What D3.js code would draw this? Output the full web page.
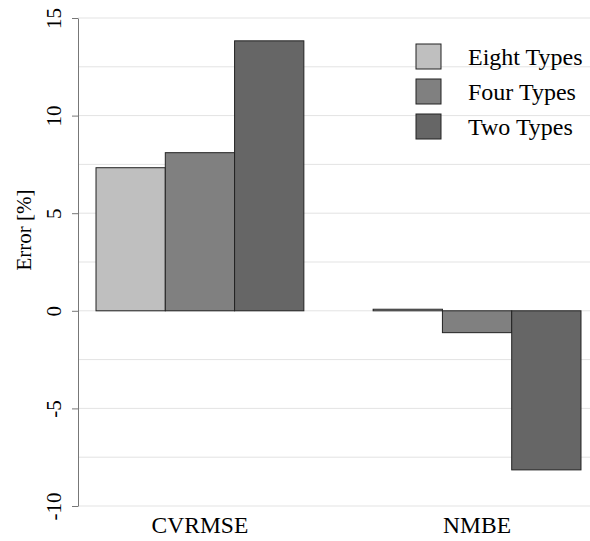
<!DOCTYPE html>
<html>
<head>
<meta charset="utf-8">
<script src="https://cdn.jsdelivr.net/npm/d3@7"></script>
<style>
  body { margin: 0; background: #fff; }
  text { font-family: "Liberation Serif", "Times New Roman", serif; fill: #000; }
</style>
</head>
<body>
<div id="chart"></div>
<script>
const categories = ['CVRMSE', 'NMBE']
const seriesNames = ['Eight Types', 'Four Types', 'Two Types']
const eightTypes = [7.33, 0.08]
const fourTypes = [8.1, -1.12]
const twoTypes = [13.83, -8.15]
const yTicks = [-10, -5, 0, 5, 10, 15]
const gridValues = [-10, -7.5, -5, -2.5, 0, 2.5, 5, 7.5, 10, 12.5, 15]
const colors = ['#bfbfbf', '#808080', '#666666']

const width = 590
const height = 541
const axisX = 78

const seriesValues = [eightTypes, fourTypes, twoTypes]
const data = categories.map((c, i) => ({
  cat: c,
  vals: seriesNames.map((s, j) => ({ name: s, value: seriesValues[j][i], idx: j }))
}))

const svg = d3.select('#chart').append('svg')
  .attr('width', width)
  .attr('height', height)

// scales
const y = d3.scaleLinear().domain([-10, 15]).range([506, 18])
const x0 = d3.scaleBand()
  .domain(categories)
  .range([axisX, 599])
  .paddingInner(0.25)
  .paddingOuter(0.065)
const x1 = d3.scaleBand()
  .domain(seriesNames)
  .range([0, x0.bandwidth()])

// grid
svg.append('g')
  .selectAll('line')
  .data(gridValues)
  .join('line')
  .attr('x1', axisX)
  .attr('x2', width)
  .attr('y1', d => y(d))
  .attr('y2', d => y(d))
  .attr('stroke', '#e3e3e3')
  .attr('stroke-width', 1)

// bars
svg.append('g')
  .selectAll('g')
  .data(data)
  .join('g')
  .attr('transform', d => `translate(${x0(d.cat)},0)`)
  .selectAll('rect')
  .data(d => d.vals)
  .join('rect')
  .attr('x', d => x1(d.name))
  .attr('y', d => y(Math.max(0, d.value)))
  .attr('width', x1.bandwidth())
  .attr('height', d => Math.abs(y(d.value) - y(0)))
  .attr('fill', d => colors[d.idx])
  .attr('stroke', '#222')
  .attr('stroke-width', 1)

// y axis (hyphen for minus, like the original)
const yAxis = svg.append('g')
  .attr('transform', `translate(${axisX},0)`)
  .call(d3.axisLeft(y).tickValues(yTicks).tickSize(6).tickSizeOuter(0)
    .tickFormat(d => String(d)))
yAxis.select('.domain').attr('stroke', '#777')
yAxis.selectAll('.tick line').attr('stroke', '#777')
yAxis.selectAll('.tick text')
  .attr('font-size', 21)
  .attr('x', 0)
  .attr('dy', 0)
  .attr('text-anchor', 'middle')
  .attr('transform', 'translate(-17,0) rotate(-90)')
  .style('font-family', '"Liberation Serif", serif')
  .attr('fill', '#000')

svg.append('text')
  .attr('transform', 'translate(31,230) rotate(-90)')
  .attr('text-anchor', 'middle')
  .attr('font-size', 21)
  .text('Error [%]')

// x labels
svg.append('g')
  .selectAll('text')
  .data(categories)
  .join('text')
  .attr('x', d => x0(d) + x0.bandwidth() / 2)
  .attr('y', 533)
  .attr('text-anchor', 'middle')
  .attr('font-size', 23.5)
  .text(d => d)

// legend
const legend = svg.append('g')
  .attr('transform', 'translate(416,44)')
  .selectAll('g')
  .data(seriesNames)
  .join('g')
  .attr('transform', (d, i) => `translate(0,${i * 35})`)
legend.append('rect')
  .attr('width', 25)
  .attr('height', 25)
  .attr('fill', (d, i) => colors[i])
  .attr('stroke', '#222')
legend.append('text')
  .attr('x', 52)
  .attr('y', 21)
  .attr('font-size', 24)
  .text(d => d)
</script>
</body>
</html>
